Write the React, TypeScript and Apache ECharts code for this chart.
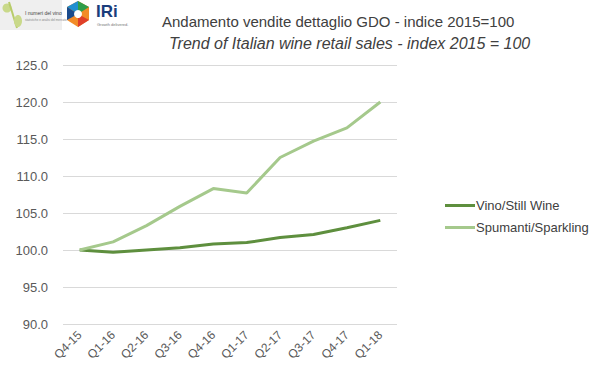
import React, { useEffect, useRef } from "react";
import * as echarts from "echarts";

const categories = ["Q4-15", "Q1-16", "Q2-16", "Q3-16", "Q4-16", "Q1-17", "Q2-17", "Q3-17", "Q4-17", "Q1-18"];
const stillWine = [100, 99.7, 100.0, 100.3, 100.8, 101.0, 101.7, 102.1, 103.0, 104.0];
const sparkling = [100, 101.1, 103.3, 105.9, 108.3, 107.7, 112.5, 114.7, 116.5, 120.0];
const seriesNames = ["Vino/Still Wine", "Spumanti/Sparkling"];
const titleIt = "Andamento vendite dettaglio GDO - indice 2015=100";
const titleEn = "Trend of Italian wine retail sales - index 2015 = 100";

export default function App() {
  const ref = useRef<HTMLDivElement>(null);
  useEffect(() => {
    const chart = echarts.init(ref.current!, null, { renderer: "svg" });
    const font = "'Liberation Sans', sans-serif";
    chart.setOption({
      animation: false,
      backgroundColor: "#fff",
      textStyle: { fontFamily: font },
      grid: { left: 63, right: 202, top: 65, bottom: 54 },
      legend: {
        orient: "vertical",
        left: 440,
        top: 194,
        itemGap: 9,
        itemWidth: 30,
        itemHeight: 3,
        icon: "rect",
        textStyle: { color: "#404040", fontSize: 13, fontFamily: font, padding: [0, 0, 0, -4] },
        data: seriesNames,
      },
      xAxis: {
        type: "category",
        data: categories,
        boundaryGap: true,
        axisLine: { show: false },
        axisTick: { show: false },
        axisLabel: { rotate: 45, color: "#595959", fontSize: 12, margin: 9, fontFamily: font },
      },
      yAxis: {
        type: "value",
        min: 90,
        max: 125,
        interval: 5,
        axisLine: { show: false },
        axisTick: { show: false },
        splitLine: { lineStyle: { color: "#d9d9d9", width: 1 } },
        axisLabel: {
          color: "#595959",
          fontSize: 13,
          margin: 15,
          fontFamily: font,
          formatter: (v: number) => v.toFixed(1),
        },
      },
      graphic: [
        { type: "text", left: 162, top: 14, style: { text: titleIt, fontSize: 15, fill: "#404040", fontFamily: font } },
        { type: "text", left: 169, top: 35, style: { text: titleEn, fontSize: 16, fill: "#404040", fontStyle: "italic", fontFamily: font } },
        // grape/percent logo
        { type: "rect", shape: { x: 0, y: 0, width: 62, height: 30 }, style: { fill: "#efefef" } },
        { type: "circle", shape: { cx: 7, cy: 8, r: 4.5 }, style: { fill: "#c9d98a" } },
        { type: "line", shape: { x1: 17, y1: 28, x2: 9, y2: 2 }, style: { stroke: "#b8cc6a", lineWidth: 2 } },
        { type: "ellipse", shape: { cx: 18, cy: 21, rx: 4, ry: 6 }, style: { fill: "#c9d98a" } },
        { type: "text", left: 25, top: 10, style: { text: "I numeri del vino", fontSize: 5, fill: "#444", fontFamily: font } },
        { type: "text", left: 25, top: 18, style: { text: "statistiche e analisi del mercato", fontSize: 3, fill: "#888" } },
        // IRi hexagon
        { type: "polygon", shape: { points: [[78, 1], [89, 7], [89, 20], [78, 27], [67, 20], [67, 7]] }, style: { fill: "#f28c28" } },
        { type: "polygon", shape: { points: [[78, 1], [89, 7], [78, 14]] }, style: { fill: "#2e9e4a" } },
        { type: "polygon", shape: { points: [[78, 1], [67, 7], [78, 14]] }, style: { fill: "#1f8fd0" } },
        { type: "polygon", shape: { points: [[67, 7], [67, 20], [78, 14]] }, style: { fill: "#1a4b8c" } },
        { type: "polygon", shape: { points: [[89, 20], [78, 27], [78, 14]] }, style: { fill: "#e0402a" } },
        { type: "circle", shape: { cx: 78, cy: 14, r: 4 }, style: { fill: "#fff" } },
        { type: "text", left: 96, top: 3, style: { text: "IRi", fontSize: 17, fontWeight: "bold", fill: "#1a3d7c", fontFamily: font } },
        { type: "text", left: 97, top: 22, style: { text: "Growth delivered.", fontSize: 4, fill: "#777" } },
      ],
      series: [
        {
          name: seriesNames[0],
          type: "line",
          data: stillWine,
          symbol: "none",
          lineStyle: { width: 3, color: "#5e8f3e" },
          itemStyle: { color: "#5e8f3e" },
        },
        {
          name: seriesNames[1],
          type: "line",
          data: sparkling,
          symbol: "none",
          lineStyle: { width: 3, color: "#a5c98c" },
          itemStyle: { color: "#a5c98c" },
        },
      ],
    });
    return () => chart.dispose();
  }, []);
  return <div ref={ref} style={{ width: 599, height: 378, position: "absolute", left: 0, top: 0 }} />;
}
